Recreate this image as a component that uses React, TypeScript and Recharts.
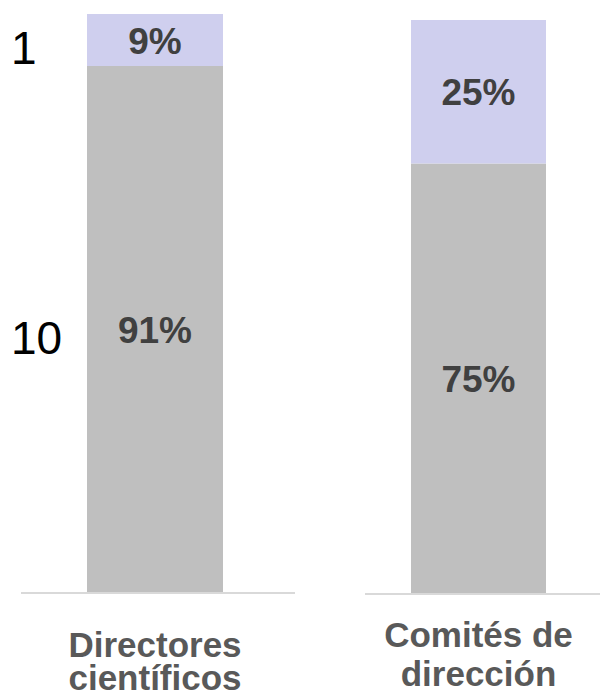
import { Bar, BarChart, LabelList, XAxis, YAxis } from "recharts";

const categories = ["Directores científicos", "Comités de dirección"];
const categoryLines = [
  ["Directores", "científicos"],
  ["Comités de", "dirección"],
];
const greyShare = [91, 75];
const purpleShare = [9, 25];
const greyCount: (number | null)[] = [10, null];
const purpleCount: (number | null)[] = [1, null];

const FONT = "'Liberation Sans', Arial, Helvetica, sans-serif";
const GREY = "#bfbfbf";
const PURPLE = "#cfcfee";

type PanelLayout = {
  left: number;
  top: number;
  marginLeft: number;
  marginRight: number;
  padRight: number;
  axisHeight: number;
  barSize: number;
  lineY: number[];
};

const layouts: PanelLayout[] = [
  { left: 0, top: 14, marginLeft: 21, marginRight: 5, padRight: 6, axisHeight: 104, barSize: 136, lineY: [64, 97] },
  { left: 300, top: 20, marginLeft: 65, marginRight: 0, padRight: 8, axisHeight: 103, barSize: 135, lineY: [53, 92] },
];

const pctLabel = (props: any) => {
  const { x, y, width, height, value } = props;
  return (
    <text
      x={x + width / 2}
      y={y + height / 2 + 13.5}
      textAnchor="middle"
      fontFamily={FONT}
      fontWeight="bold"
      fontSize={37}
      fill="#404040"
    >
      {`${value}%`}
    </text>
  );
};

const countLabel = (props: any) => {
  const { x, y, height, value } = props;
  if (value == null) return null;
  return (
    <text x={x - 76} y={y + height / 2 + 24} textAnchor="start" fontFamily={FONT} fontSize={46} fill="#000">
      {value}
    </text>
  );
};

function Panel({ index }: { index: number }) {
  const lay = layouts[index];
  const data = [
    {
      name: categories[index],
      grey: greyShare[index],
      purple: purpleShare[index],
      greyN: greyCount[index],
      purpleN: purpleCount[index],
    },
  ];
  const tick = (props: any) => {
    const { x, y } = props;
    const lines = categoryLines[index];
    return (
      <text
        x={x}
        y={y + lay.lineY[0]}
        textAnchor="middle"
        fontFamily={FONT}
        fontWeight="bold"
        fontSize={35}
        fill="#595959"
      >
        {lines.map((line, i) => (
          <tspan key={i} x={x} y={y + lay.lineY[i]}>
            {line}
          </tspan>
        ))}
      </text>
    );
  };
  return (
    <div style={{ position: "absolute", left: lay.left, top: 0 }}>
      <BarChart
        width={300}
        height={697}
        data={data}
        margin={{ top: lay.top, right: lay.marginRight, bottom: 0, left: lay.marginLeft }}
      >
        <YAxis hide domain={[0, 100]} />
        <XAxis
          dataKey="name"
          height={lay.axisHeight}
          padding={{ left: 0, right: lay.padRight }}
          axisLine={{ stroke: "#d9d9d9", strokeWidth: 2 }}
          tickLine={false}
          tickSize={0}
          tickMargin={0}
          tick={tick}
          interval={0}
        />
        <Bar dataKey="grey" stackId="s" fill={GREY} barSize={lay.barSize} isAnimationActive={false}>
          <LabelList dataKey="grey" content={pctLabel} />
          <LabelList dataKey="greyN" content={countLabel} />
        </Bar>
        <Bar dataKey="purple" stackId="s" fill={PURPLE} barSize={lay.barSize} isAnimationActive={false}>
          <LabelList dataKey="purple" content={pctLabel} />
          <LabelList dataKey="purpleN" content={countLabel} />
        </Bar>
      </BarChart>
    </div>
  );
}

export default function App() {
  return (
    <div style={{ position: "absolute", left: 0, top: 0, width: 600, height: 697, background: "#fff", overflow: "hidden" }}>
      <Panel index={0} />
      <Panel index={1} />
    </div>
  );
}
